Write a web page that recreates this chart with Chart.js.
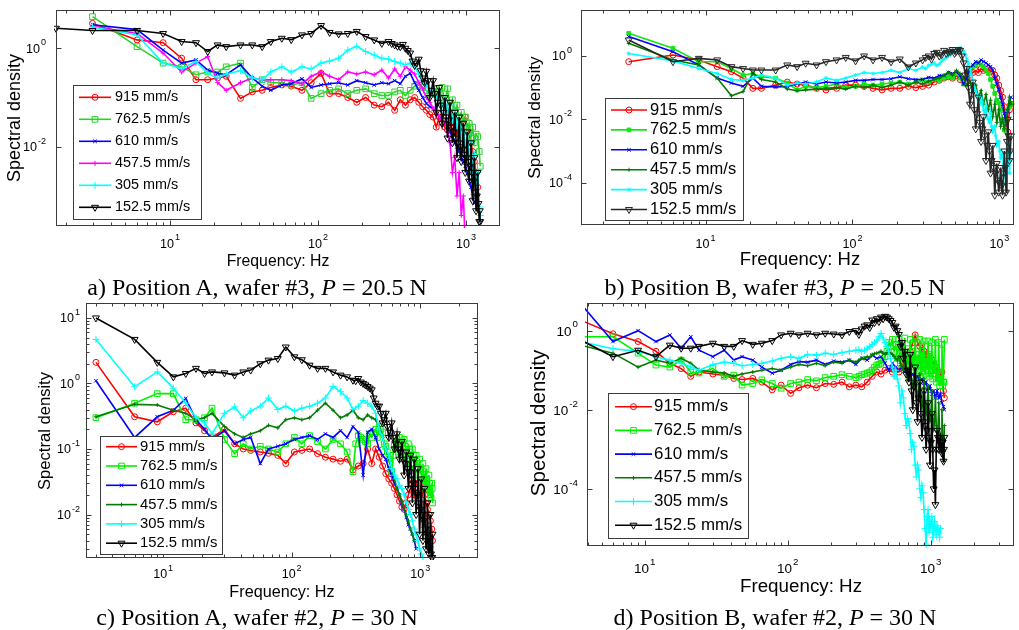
<!DOCTYPE html>
<html>
<head>
<meta charset="utf-8">
<title>Spectral density</title>
<script src="https://cdn.jsdelivr.net/npm/chart.js@4.4.0/dist/chart.umd.min.js"></script>
<style>
  body { margin: 0; background: #fff; width: 1019px; height: 630px; position: relative; overflow: hidden; }
  canvas { position: absolute; }
  .cap { position: absolute; font: 24px "Liberation Serif", "Times New Roman", serif; line-height: 24px;
         white-space: nowrap; transform: translateX(-50%); color: #000; z-index: 2; }
</style>
</head>
<body>
<canvas id="pa" width="505" height="275" style="left:0;top:0"></canvas>
<canvas id="pb" width="514" height="275" style="left:505px;top:0"></canvas>
<canvas id="pc" width="505" height="310" style="left:0;top:295px"></canvas>
<canvas id="pd" width="514" height="310" style="left:505px;top:295px"></canvas>
<div class="cap" style="left:257px;top:275px">a) Position A, wafer #3, <i>P</i> = 20.5 N</div>
<div class="cap" style="left:775px;top:275px">b) Position B, wafer #3, <i>P</i> = 20.5 N</div>
<div class="cap" style="left:257px;top:605px">c) Position A, wafer #2, <i>P</i> = 30 N</div>
<div class="cap" style="left:775px;top:605px">d) Position B, wafer #2, <i>P</i> = 30 N</div>
<script>
// sliding speeds, one curve each
const SPEEDS = ['915 mm/s', '762.5 mm/s', '610 mm/s', '457.5 mm/s', '305 mm/s', '152.5 mm/s'];

// frequency samples (Hz) shared by every panel
const FREQ = [1.7, 3, 6, 9, 12, 15, 18, 21, 24, 30,
  36, 42, 48, 57, 66, 78, 90, 105, 120, 138,
  159, 183, 210, 240, 270, 300, 330, 360, 390, 420,
  450, 480, 510, 540, 570, 600, 630, 660, 690, 720,
  750, 780, 810, 840, 870, 900, 930, 960, 990, 1020,
  1050, 1080, 1110, 1140, 1170, 1200, 1230, 1248];
// extra in-between samples for the noisiest high-frequency bands
const FREQ_HI = [315, 345, 375, 405, 435, 465, 495, 525, 555, 585,
  615, 645, 675, 705, 735, 765, 795, 825, 855, 885,
  915, 945, 975, 1005, 1035, 1065, 1095, 1125, 1155, 1185,
  1215, 1240];

// decade exponents that carry a tick label
const X_DECADES = [1, 2, 3];
const Y_DECADES_A = [0, -2];
const Y_DECADES_B = [0, -2, -4];
const Y_DECADES_C = [1, 0, -1, -2];
const Y_DECADES_D = [0, -2, -4];

// ---- a) position A, wafer #3, 20.5 N
const A_915 = [null, 3.2, 1.48, 1.3, 0.63, 0.23, 0.23, 0.25, 0.27, 0.096,
  0.13, 0.14, 0.16, 0.18, 0.17, 0.14, 0.2, 0.31, 0.12, 0.12,
  0.1, 0.08, 0.1, 0.07, 0.065, 0.08, 0.055, 0.09, 0.07, 0.09,
  0.1, 0.08, 0.065, 0.055, 0.045, 0.04, 0.025, 0.04, 0.03, 0.025,
  0.022, 0.03, 0.02, 0.025, 0.018, 0.03, 0.022, 0.035, 0.04, 0.025,
  0.02, 0.012, 0.008, 0.005, 0.003, 0.0015, null, null];
const A_7625 = [null, 4.4, 1.08, 0.5, 0.42, 0.29, 0.33, 0.33, 0.42, 0.5,
  0.16, 0.23, 0.2, 0.2, 0.18, 0.2, 0.096, 0.12, 0.14, 0.15,
  0.12, 0.14, 0.15, 0.12, 0.11, 0.11, 0.13, 0.14, 0.11, 0.14,
  0.17, 0.18, 0.16, 0.14, 0.12, 0.12, 0.15, 0.1, 0.16, 0.08,
  0.15, 0.06, 0.09, 0.05, 0.07, 0.04, 0.05, 0.03, 0.04, 0.02,
  0.03, 0.015, 0.025, 0.012, 0.018, 0.016, 0.008, 0.004];
const A_610 = [null, 3.0, 2.4, 0.92, 0.5, 0.58, 0.36, 0.31, 0.29, 0.46,
  0.25, 0.17, 0.14, 0.18, 0.19, 0.24, 0.16, 0.18, 0.19, 0.2,
  0.18, 0.22, 0.2, 0.18, 0.2, 0.19, 0.22, 0.19, 0.27, 0.31,
  0.2, 0.14, 0.1, 0.076, 0.065, 0.06, 0.05, 0.04, 0.035, 0.03,
  0.025, 0.02, 0.016, 0.012, 0.01, 0.008, 0.006, 0.005, 0.004, 0.003,
  0.002, 0.0015, 0.001, 0.0007, null, null, null, null];
const A_4575 = [null, 2.8, 2.0, 0.8, 0.33, 0.5, 0.68, 0.2, 0.14, 0.2,
  0.25, 0.23, 0.23, 0.23, 0.22, 0.19, 0.27, 0.33, 0.27, 0.23,
  0.33, 0.3, 0.33, 0.29, 0.36, 0.25, 0.38, 0.27, 0.42, 0.36,
  0.3, 0.2, 0.15, 0.1, 0.08, 0.06, 0.05, 0.04, 0.035, 0.03,
  0.02, 0.012, 0.003, 0.006, 0.001, 0.003, 0.0004, 0.001, 0.0001, null,
  null, null, null, null, null, null, null, null];
const A_305 = [null, 2.7, 1.87, 0.5, 0.39, 0.54, 0.31, 0.25, 0.3, 0.35,
  0.25, 0.23, 0.33, 0.42, 0.33, 0.42, 0.38, 0.5, 0.55, 0.63,
  0.92, 1.1, 0.86, 0.73, 0.63, 0.6, 0.54, 0.5, 0.46, 0.5,
  0.42, 0.3, 0.22, 0.18, 0.14, 0.12, 0.1, 0.12, 0.07, 0.09,
  0.05, 0.07, 0.035, 0.05, 0.025, 0.035, 0.015, 0.025, 0.01, 0.018,
  0.006, 0.012, 0.003, 0.007, 0.0015, 0.003, 0.0006, 0.0004];
const A_1525 = [2.55, 2.3, 2.3, 2.0, 1.37, 1.3, 0.86, 1.17, 1.08, 1.17,
  1.17, 1.08, 1.37, 1.6, 1.5, 1.87, 2.0, 2.9, 2.1, 1.96,
  2.0, 2.2, 1.73, 1.48, 1.26, 1.37, 1.17, 1.08, 1.0, 0.8,
  0.45, 0.6, 0.25, 0.34, 0.1, 0.22, 0.05, 0.16, 0.03, 0.1,
  0.015, 0.08, 0.012, 0.05, 0.006, 0.04, 0.005, 0.03, 0.003, 0.02,
  0.002, 0.012, 0.0008, 0.006, 0.0005, 0.003, 0.0003, 0.0003];
const A_1525_HI = [1.25, 1.1, 1.2, 0.9, 0.55, 0.5, 0.35, 0.2, 0.22, 0.14,
  0.12, 0.08, 0.07, 0.05, 0.04, 0.035, 0.025, 0.02, 0.015, 0.012,
  0.01, 0.009, 0.007, 0.006, 0.005, 0.004, 0.003, 0.002, 0.0015, 0.001,
  0.0007, 0.0005];

// ---- b) position B, wafer #3, 20.5 N
const B_915 = [null, 0.66, 1.07, 0.75, 0.46, 0.32, 0.2, 0.095, 0.095, 0.12,
  0.15, 0.13, 0.12, 0.095, 0.085, 0.095, 0.12, 0.12, 0.11, 0.095,
  0.085, 0.095, 0.095, 0.11, 0.1, 0.11, 0.12, 0.15, 0.17, 0.2,
  0.22, 0.2, 0.24, 0.18, 0.18, 0.2, 0.25, 0.3, 0.35, 0.3,
  0.4, 0.35, 0.38, 0.4, 0.32, 0.35, 0.25, 0.2, 0.12, 0.08,
  0.05, 0.025, 0.01, 0.004, 0.02, 0.03, null, null];
const B_7625 = [null, 5.2, 1.75, 0.66, 0.66, 0.4, 0.25, 0.28, 0.22, 0.2,
  0.14, 0.085, 0.11, 0.1, 0.11, 0.13, 0.1, 0.11, 0.13, 0.12,
  0.13, 0.14, 0.15, 0.13, 0.15, 0.175, 0.15, 0.18, 0.17, 0.2,
  0.22, 0.2, 0.28, 0.2, 0.13, 0.2, 0.33, 0.46, 0.52, 0.6,
  0.52, 0.46, 0.36, 0.28, 0.18, 0.11, 0.066, 0.04, 0.033, 0.02,
  0.01, 0.0046, 0.01, 0.02, 0.025, 0.03, null, null];
const B_610 = [null, 4.1, 1.37, 0.52, 0.2, 0.14, 0.11, 0.2, 0.11, 0.105,
  0.11, 0.13, 0.15, 0.13, 0.15, 0.14, 0.15, 0.17, 0.17, 0.18,
  0.18, 0.19, 0.22, 0.19, 0.18, 0.18, 0.21, 0.2, 0.24, 0.24,
  0.3, 0.28, 0.32, 0.24, 0.13, 0.2, 0.4, 0.52, 0.66, 0.6,
  0.75, 0.66, 0.6, 0.52, 0.46, 0.36, 0.2, 0.13, 0.085, 0.05,
  0.03, 0.015, 0.008, 0.018, 0.035, 0.05, null, null];
const B_4575 = [null, 2.5, 0.75, 0.52, 0.2, 0.055, 0.075, 0.28, 0.18, 0.15,
  0.09, 0.08, 0.085, 0.09, 0.095, 0.1, 0.09, 0.11, 0.1, 0.12,
  0.1, 0.12, 0.15, 0.12, 0.15, 0.13, 0.16, 0.18, 0.2, 0.25,
  0.3, 0.25, 0.35, 0.28, 0.2, 0.12, 0.15, 0.08, 0.12, 0.05,
  0.08, 0.03, 0.06, 0.02, 0.04, 0.012, 0.03, 0.008, 0.02, 0.006,
  0.01, 0.005, 0.008, 0.02, 0.05, 0.03, null, null];
const B_305 = [null, 1.2, 0.7, 0.4, 0.28, 0.18, 0.17, 0.2, 0.25, 0.2,
  0.12, 0.14, 0.13, 0.15, 0.2, 0.17, 0.2, 0.25, 0.3, 0.28,
  0.3, 0.35, 0.3, 0.4, 0.35, 0.45, 0.5, 0.6, 0.55, 0.8,
  1.0, 1.3, 1.5, 1.8, 1.4, 0.8, 0.4, 0.15, 0.08, 0.04,
  0.05, 0.02, 0.025, 0.01, 0.015, 0.004, 0.006, 0.0015, 0.002, 0.0006,
  0.0008, 0.0002, 0.0001, 0.003, 0.0002, 0.001, null, null];
const B_305_HI = [0.4, 0.55, 0.5, 0.7, 0.9, 1.1, 1.4, 1.6, 1.5, 1.1,
  0.6, 0.25, 0.1, 0.06, 0.03, 0.035, 0.015, 0.012, 0.008, 0.006,
  0.005, 0.003, 0.0018, 0.001, 0.0007, 0.0004, 0.00015, 0.001, 0.0008, 0.0005,
  null, null];
const B_1525 = [null, 3.2, 0.66, 0.84, 0.75, 0.46, 0.4, 0.36, 0.36, 0.36,
  0.52, 0.46, 0.59, 0.52, 0.66, 0.75, 0.9, 0.7, 1.0, 0.75,
  0.9, 0.65, 0.8, 0.45, 0.6, 0.75, 1.0, 1.2, 1.0, 1.5,
  1.3, 1.6, 1.4, 1.5, 0.6, 0.4, 0.03, 0.15, 0.005, 0.05,
  0.002, 0.012, 0.0005, 0.004, 0.0002, 0.0015, 0.00004, 0.0004, 0.00005, 0.0003,
  0.00004, 0.001, 0.00005, 0.01, 0.0005, 0.003, null, null];
const B_1525_HI = [0.9, 0.8, 1.3, 1.1, 1.2, 1.4, 1.2, 1.6, 1.0, 0.25,
  0.1, 0.06, 0.02, 0.015, 0.008, 0.005, 0.003, 0.0015, 0.001, 0.0005,
  0.0003, 0.0002, 0.00012, 0.0001, 0.00008, 0.0002, 0.0003, 0.002, 0.003, 0.001,
  null, null];

// ---- c) position A, wafer #2, 30 N
const C_915 = [null, 2.1, 0.31, 0.26, 0.37, 0.42, 0.25, 0.19, 0.15, 0.2,
  0.12, 0.1, 0.095, 0.09, 0.086, 0.08, 0.06, 0.09, 0.095, 0.1,
  0.085, 0.075, 0.07, 0.065, 0.07, 0.048, 0.055, 0.06, 0.1, 0.06,
  0.1, 0.075, 0.055, 0.042, 0.035, 0.03, 0.025, 0.02, 0.016, 0.013,
  0.012, 0.015, 0.02, 0.025, 0.03, 0.02, 0.03, 0.025, 0.02, 0.03,
  0.025, 0.02, 0.015, 0.012, 0.01, 0.008, 0.006, 0.004];
const C_7625 = [null, 0.3, 0.5, 0.7, 0.7, 0.28, 0.28, 0.3, 0.42, 0.14,
  0.085, 0.12, 0.1, 0.11, 0.1, 0.09, 0.12, 0.15, 0.12, 0.16,
  0.13, 0.1, 0.14, 0.12, 0.09, 0.045, 0.16, 0.14, 0.12, 0.15,
  0.2, 0.22, 0.18, 0.11, 0.07, 0.045, 0.12, 0.13, 0.15, 0.12,
  0.14, 0.1, 0.12, 0.08, 0.1, 0.06, 0.08, 0.05, 0.07, 0.04,
  0.06, 0.035, 0.05, 0.025, 0.04, 0.02, 0.03, 0.015];
const C_7625_HI = [0.12, 0.15, 0.13, 0.17, 0.18, 0.15, 0.2, 0.12, 0.09, 0.06,
  0.08, 0.1, 0.09, 0.12, 0.09, 0.11, 0.07, 0.09, 0.06, 0.08,
  0.05, 0.06, 0.04, 0.05, 0.03, 0.045, 0.025, 0.035, 0.02, 0.03,
  0.018, 0.025];
const C_610 = [null, 1.1, 0.15, 0.31, 0.39, 0.59, 0.28, 0.2, 0.14, 0.19,
  0.12, 0.14, 0.15, 0.06, 0.1, 0.11, 0.12, 0.14, 0.15, 0.16,
  0.14, 0.17, 0.15, 0.19, 0.15, 0.22, 0.18, 0.04, 0.18, 0.2,
  0.15, 0.1, 0.08, 0.07, 0.05, 0.04, 0.03, 0.025, 0.02, 0.015,
  0.012, 0.009, 0.007, 0.006, 0.005, 0.004, 0.003, null, null, null,
  null, null, null, null, null, null, null, null];
const C_4575 = [null, 0.31, 0.48, 0.47, 0.39, 0.35, 0.28, 0.3, 0.35, 0.22,
  0.17, 0.15, 0.17, 0.19, 0.23, 0.21, 0.28, 0.3, 0.28, 0.3,
  0.39, 0.5, 0.39, 0.3, 0.33, 0.39, 0.3, 0.28, 0.33, 0.3,
  0.28, 0.22, 0.15, 0.1, 0.07, 0.05, 0.035, 0.025, 0.02, 0.016,
  0.012, 0.01, 0.008, 0.006, 0.005, 0.004, null, null, null, null,
  null, null, null, null, null, null, null, null];
const C_305 = [null, 4.7, 0.89, 1.5, 0.85, 0.5, 0.3, 0.25, 0.17, 0.35,
  0.44, 0.3, 0.38, 0.45, 0.6, 0.4, 0.45, 0.38, 0.42, 0.45,
  0.5, 0.6, 0.9, 0.75, 0.6, 0.4, 0.45, 0.55, 0.5, 0.45,
  0.35, 0.2, 0.15, 0.1, 0.08, 0.05, 0.04, 0.035, 0.028, 0.025,
  0.02, 0.015, 0.012, 0.01, 0.008, 0.006, 0.005, 0.004, 0.003, 0.0025,
  0.0022, null, null, null, null, null, null, null];
const C_1525 = [null, 10, 4.7, 2.1, 1.26, 1.42, 1.7, 1.42, 1.5, 1.45,
  1.34, 1.5, 1.6, 2.0, 2.27, 2.4, 3.6, 2.55, 2.3, 1.9,
  1.7, 1.7, 1.5, 1.34, 1.26, 1.12, 1.19, 1.0, 0.9, 0.8,
  0.5, 0.45, 0.25, 0.35, 0.15, 0.25, 0.1, 0.17, 0.07, 0.13,
  0.04, 0.09, 0.025, 0.08, 0.015, 0.07, 0.01, 0.05, 0.005, 0.035,
  0.004, 0.025, 0.003, 0.015, 0.0025, 0.01, 0.0022, 0.005];
const C_1525_HI = [1.1, 1.05, 0.95, 0.85, 0.6, 0.45, 0.35, 0.28, 0.22, 0.18,
  0.15, 0.12, 0.1, 0.09, 0.07, 0.06, 0.05, 0.045, 0.04, 0.03,
  0.025, 0.02, 0.015, 0.012, 0.01, 0.008, 0.006, 0.005, 0.004, 0.003,
  0.0025, 0.0022];

// ---- d) position B, wafer #2, 30 N
const D_915 = [null, 2.4, 0.83, 0.53, 0.3, 0.15, 0.11, 0.07, 0.09, 0.08,
  0.075, 0.062, 0.058, 0.062, 0.05, 0.032, 0.042, 0.026, 0.036, 0.042,
  0.036, 0.046, 0.044, 0.05, 0.038, 0.042, 0.038, 0.05, 0.07, 0.09,
  0.08, 0.1, 0.11, 0.09, 0.1, 0.09, 0.12, 0.15, 0.2, 0.3,
  0.5, 0.78, 0.5, 0.4, 0.35, 0.3, 0.25, 0.2, 0.22, 0.18,
  0.15, 0.12, 0.1, 0.08, 0.07, 0.09, 0.03, 0.02];
const D_7625 = [null, 0.7, 0.7, 0.27, 0.135, 0.12, 0.18, 0.09, 0.085, 0.11,
  0.07, 0.075, 0.042, 0.046, 0.057, 0.046, 0.035, 0.046, 0.05, 0.058,
  0.054, 0.065, 0.07, 0.077, 0.07, 0.065, 0.077, 0.085, 0.1, 0.135,
  0.15, 0.22, 0.5, 0.6, 0.45, 0.6, 0.4, 0.65, 0.35, 0.6,
  0.3, 0.65, 0.25, 0.6, 0.3, 0.55, 0.2, 0.55, 0.25, 0.5,
  0.15, 0.6, 0.1, 0.5, 0.06, 0.45, 0.05, 0.6];
const D_7625_HI = [0.07, 0.08, 0.09, 0.12, 0.14, 0.18, 0.3, 0.4, 0.3, 0.2,
  0.15, 0.2, 0.12, 0.15, 0.1, 0.12, 0.08, 0.1, 0.07, 0.09,
  0.08, 0.1, 0.07, 0.1, 0.06, 0.08, 0.05, 0.06, 0.04, 0.05,
  0.04, 0.05];
const D_610 = [null, 10, 0.53, 1.0, 0.53, 0.78, 0.36, 0.7, 0.32, 0.22,
  0.32, 0.18, 0.22, 0.18, 0.12, 0.084, 0.1, 0.14, 0.165, 0.16,
  0.18, 0.14, 0.17, 0.16, 0.18, 0.14, 0.2, 0.18, 0.24, 0.2,
  0.22, 0.15, 0.1, 0.15, 0.12, 0.1, 0.12, 0.09, 0.1, 0.07,
  0.08, 0.06, 0.07, 0.05, 0.06, 0.04, 0.05, 0.03, 0.04, 0.025,
  0.03, 0.02, 0.03, 0.02, 0.025, 0.015, 0.012, 0.01];
const D_4575 = [null, 0.5, 0.27, 0.12, 0.18, 0.15, 0.2, 0.15, 0.1, 0.09,
  0.085, 0.07, 0.08, 0.09, 0.1, 0.11, 0.1, 0.12, 0.14, 0.13,
  0.15, 0.13, 0.16, 0.15, 0.18, 0.16, 0.2, 0.22, 0.25, 0.27,
  0.3, 0.25, 0.3, 0.25, 0.2, 0.22, 0.12, 0.2, 0.06, 0.15,
  0.04, 0.1, 0.02, 0.08, 0.012, 0.06, 0.008, 0.04, 0.005, 0.03,
  0.003, 0.02, 0.002, 0.015, 0.001, 0.01, 0.0005, 0.004];
const D_4575_HI = [0.18, 0.2, 0.21, 0.26, 0.28, 0.27, 0.28, 0.27, 0.22, 0.18,
  0.15, 0.1, 0.12, 0.08, 0.06, 0.05, 0.04, 0.03, 0.025, 0.02,
  0.015, 0.012, 0.01, 0.008, 0.006, 0.005, 0.004, 0.003, 0.0025, 0.002,
  0.0015, 0.001];
const D_305 = [null, 0.6, 0.35, 0.3, 0.22, 0.18, 0.15, 0.12, 0.1, 0.14,
  0.16, 0.15, 0.13, 0.14, 0.15, 0.17, 0.2, 0.22, 0.2, 0.25,
  0.24, 0.27, 0.25, 0.28, 0.3, 0.32, 0.3, 0.35, 0.45, 0.55,
  0.85, 0.5, 0.3, 0.12, 0.1, 0.04, 0.03, 0.008, 0.006, 0.0025,
  0.0015, 0.0004, 0.0004, 0.0001, 0.00012, 0.00003, 0.000004, 0.00003, 0.000015, 0.00002,
  0.000008, 0.00001, 0.000012, 0.000008, 0.00001, null, null, null];
const D_305_HI = [0.33, 0.32, 0.4, 0.5, 0.7, 0.65, 0.4, 0.2, 0.07, 0.06,
  0.015, 0.02, 0.004, 0.005, 0.001, 0.0012, 0.0002, 0.0003, 0.00006, 0.00008,
  0.00001, 0.00002, 0.000008, 0.000012, 0.000006, 0.000015, 0.000007, 0.00001, 0.000006, null,
  null, null];
const D_1525 = [null, 0.8, 0.22, 0.32, 0.22, 0.43, 0.36, 0.36, 0.4, 0.48,
  0.4, 0.4, 0.56, 0.45, 0.48, 0.56, 0.78, 0.86, 0.78, 0.86,
  0.78, 0.86, 0.82, 0.78, 0.95, 1.0, 1.1, 1.4, 1.85, 2.0,
  2.2, 2.3, 2.0, 1.6, 1.3, 0.8, 0.5, 0.3, 0.1, 0.25,
  0.01, 0.12, 0.005, 0.05, 0.002, 0.03, 0.001, 0.015, 0.0004, 0.008,
  0.0001, 0.00004, 0.003, 0.001, 0.002, 0.0008, 0.0005, 0.002];
const D_1525_HI = [0.8, 1.3, 1.2, 1.6, 1.7, 2.0, 2.2, 1.8, 1.2, 1.0,
  0.4, 0.2, 0.08, 0.05, 0.03, 0.04, 0.015, 0.02, 0.008, 0.005,
  0.004, 0.003, 0.002, 0.0015, 0.001, 0.0003, 0.001, 0.002, 0.0015, 0.001,
  0.0015, 0.001];

const SANS = '"Liberation Sans", Arial, sans-serif';
const AXIS = '#3c3c3c';
const CLEAR = 'rgba(0,0,0,0)';

// marker / colour sets (MATLAB-like line specs)
const STYLE_A = [
  { c: '#ff0000', p: 'circle', r: 3, fill: false },
  { c: '#2ad22a', p: 'rect', r: 4, fill: false },
  { c: '#0000ff', p: 'crossRot', r: 2.5, fill: false },
  { c: '#ff00ff', p: 'cross', r: 2.5, fill: false },
  { c: '#00ffff', p: 'cross', r: 3.5, fill: false },
  { c: '#000000', p: 'triangle', r: 4, fill: false, rot: 180 },
];
const STYLE_B = [
  { c: '#ff0000', p: 'circle', r: 3, fill: false },
  { c: '#14e614', p: 'rect', r: 2.6, fill: true },
  { c: '#0000ff', p: 'crossRot', r: 2.5, fill: false },
  { c: '#007a00', p: 'cross', r: 2, fill: false },
  { c: '#00ffff', p: 'star', r: 2, fill: false },
  { c: '#262626', p: 'triangle', r: 4, fill: false, rot: 180 },
];
const STYLE_CD = [
  { c: '#ff0000', p: 'circle', r: 3, fill: false },
  { c: '#00f000', p: 'rect', r: 4, fill: false },
  { c: '#0000ff', p: 'crossRot', r: 2.5, fill: false },
  { c: '#007a00', p: 'cross', r: 2, fill: false },
  { c: '#00ffff', p: 'cross', r: 3.5, fill: false },
  { c: '#000000', p: 'triangle', r: 4, fill: false, rot: 180 },
];

const PANELS = [
  { id: 'pa', series: [A_915, A_7625, A_610, A_4575, A_305, A_1525], hi: { 5: A_1525_HI }, style: STYLE_A,
    x: [1.70, 1698], y: [2.45e-4, 6.0], yDec: Y_DECADES_A, yMinor: false,
    pad: { top: 10, right: 5 }, yW: 56, xH: 49,
    tick: 12.6, xLabBase: 248, yLabGap: 10,
    xTitle: [278, 262, 15.8], yTitle: [15, 118, 18],
    legend: { x: 73, y: 85, w: 128, h: 134, row0: 97.3, dy: 22, l1: 79, l2: 111, tx: 115, size: 14.4 } },
  { id: 'pb', series: [B_915, B_7625, B_610, B_4575, B_305, B_1525], hi: { 4: B_305_HI, 5: B_1525_HI }, style: STYLE_B,
    x: [1.42, 1257], y: [4.6e-6, 28.3], yDec: Y_DECADES_B, yMinor: false,
    pad: { top: 10, right: 1 }, yW: 76, xH: 50,
    tick: 12.5, xLabBase: 248.3, yLabGap: 9,
    xTitle: [295, 260, 18.5], yTitle: [30, 117.5, 17.2],
    legend: { x: 100, y: 98, w: 138, h: 122, row0: 110, dy: 19.9, l1: 106, l2: 142, tx: 145, size: 16.5 } },
  { id: 'pc', series: [C_915, C_7625, C_610, C_4575, C_305, C_1525], hi: { 1: C_7625_HI, 5: C_1525_HI }, style: STYLE_CD,
    x: [2.51, 2818], y: [2.17e-3, 16.9], yDec: Y_DECADES_C, yMinor: true,
    pad: { top: 8, right: 27 }, yW: 86, xH: 47,
    tick: 12.5, xLabBase: 283.3, yLabGap: 6,
    xTitle: [282, 297.7, 16.2], yTitle: [45, 136, 16.6],
    legend: { x: 100, y: 141, w: 122, h: 118, row0: 151.7, dy: 19.3, l1: 106, l2: 137, tx: 140, size: 14.8 } },
  { id: 'pd', series: [D_915, D_7625, D_610, D_4575, D_305, D_1525],
    hi: { 1: D_7625_HI, 3: D_4575_HI, 4: D_305_HI, 5: D_1525_HI }, style: STYLE_CD,
    x: [3.95, 3830], y: [3.6e-6, 5.0], yDec: Y_DECADES_D, yMinor: false,
    pad: { top: 8, right: 2 }, yW: 82, xH: 59,
    tick: 13.5, xLabBase: 278.3, yLabGap: 9,
    xTitle: [296, 292.3, 18.8], yTitle: [34, 128, 20.6],
    legend: { x: 103, y: 98, w: 140, h: 145, row0: 111.7, dy: 23.7, l1: 110, l2: 147, tx: 149, size: 16.9 } },
];

// merge the main samples with the optional in-between ones, in frequency order
function points(values, extra) {
  const pts = [];
  values.forEach((v, i) => { if (v !== null) pts.push({ x: FREQ[i], y: v }); });
  if (extra) extra.forEach((v, i) => { if (v !== null) pts.push({ x: FREQ_HI[i], y: v }); });
  return pts.sort((a, b) => a.x - b.x);
}

function text(ctx, str, x, y, size, opt = {}) {
  ctx.save();
  ctx.translate(x, y);
  if (opt.rot) ctx.rotate(-Math.PI / 2);
  ctx.font = size + 'px ' + SANS;
  ctx.textAlign = opt.align || 'left';
  ctx.textBaseline = opt.base || 'alphabetic';
  ctx.fillStyle = '#000';
  ctx.fillText(str, 0, 0);
  ctx.restore();
}

// "10" with a raised exponent; y is the baseline of the "10"
function power(ctx, exp, x, y, size, align) {
  const es = size * 0.72;
  ctx.font = size + 'px ' + SANS;
  const w10 = ctx.measureText('10').width;
  ctx.font = es + 'px ' + SANS;
  const we = ctx.measureText(String(exp)).width;
  const total = w10 + 1 + we;
  const x0 = align === 'center' ? x - total / 2 : x - total;
  text(ctx, '10', x0, y, size);
  text(ctx, String(exp), x0 + w10 + 1, y - size * 0.6, es);
}

function seg(ctx, x1, y1, x2, y2) {
  ctx.beginPath(); ctx.moveTo(x1, y1); ctx.lineTo(x2, y2); ctx.stroke();
}

// box, inward ticks, tick labels, axis titles and the in-plot legend
const matlabAxes = {
  id: 'matlabAxes',
  afterDatasetsDraw(chart, args, p) {
    const ctx = chart.ctx;
    const { left, right, top, bottom } = chart.chartArea;
    const xs = chart.scales.x, ys = chart.scales.y;
    ctx.save();
    ctx.strokeStyle = AXIS;
    ctx.lineWidth = 1;
    const L = Math.round(left) + 0.5, R = Math.round(right) - 0.5;
    const T = Math.round(top) + 0.5, B = Math.round(bottom) - 0.5;
    ctx.strokeRect(L, T, R - L, B - T);

    const e0 = Math.floor(Math.log10(xs.min)), e1 = Math.ceil(Math.log10(xs.max));
    for (let e = e0; e <= e1; e++) {
      for (let m = 1; m < 10; m++) {
        const v = m * Math.pow(10, e);
        if (v < xs.min || v > xs.max) continue;
        const px = Math.round(xs.getPixelForValue(v)) + 0.5;
        const len = m === 1 ? 5 : 3;
        seg(ctx, px, B, px, B - len);
        seg(ctx, px, T, px, T + len);
      }
    }
    const f0 = Math.floor(Math.log10(ys.min)), f1 = Math.ceil(Math.log10(ys.max));
    for (let e = f0; e <= f1; e++) {
      for (let m = 1; m < 10; m++) {
        if (m > 1 && !p.yMinor) break;
        const v = m * Math.pow(10, e);
        if (v < ys.min || v > ys.max) continue;
        if (m === 1 && !p.yMinor && !p.yDec.includes(e)) continue;
        const py = Math.round(ys.getPixelForValue(v)) + 0.5;
        const len = m === 1 ? 5 : 3;
        seg(ctx, L, py, L + len, py);
        seg(ctx, R, py, R - len, py);
      }
    }
    ctx.restore();

    X_DECADES.forEach(e => {
      const v = Math.pow(10, e);
      if (v < xs.min || v > xs.max) return;
      power(ctx, e, xs.getPixelForValue(v), p.xLabBase, p.tick, 'center');
    });
    p.yDec.forEach(e => {
      const py = ys.getPixelForValue(Math.pow(10, e));
      power(ctx, e, left - p.yLabGap, py + p.tick * 0.36, p.tick, 'right');
    });
    text(ctx, 'Frequency: Hz', p.xTitle[0], p.xTitle[1], p.xTitle[2], { align: 'center', base: 'middle' });
    text(ctx, 'Spectral density', p.yTitle[0], p.yTitle[1], p.yTitle[2], { align: 'center', base: 'middle', rot: true });

    const lg = p.legend;
    ctx.save();
    ctx.fillStyle = '#fff';
    ctx.fillRect(lg.x, lg.y, lg.w, lg.h);
    ctx.strokeStyle = AXIS;
    ctx.lineWidth = 1;
    ctx.strokeRect(lg.x + 0.5, lg.y + 0.5, lg.w, lg.h);
    chart.data.datasets.forEach((ds, i) => {
      const y = lg.row0 + i * lg.dy;
      ctx.strokeStyle = ds.borderColor;
      ctx.lineWidth = ds.borderWidth;
      seg(ctx, lg.l1, y, lg.l2, y);
      ctx.strokeStyle = ds.pointBorderColor;
      ctx.fillStyle = ds.pointBackgroundColor;
      ctx.lineWidth = 1;
      Chart.helpers.drawPoint(ctx, { pointStyle: ds.pointStyle, radius: ds.pointRadius,
        rotation: ds.pointRotation, borderWidth: 1 }, (lg.l1 + lg.l2) / 2, y);
      text(ctx, ds.label, lg.tx, y, lg.size, { base: 'middle' });
    });
    ctx.restore();
  }
};

PANELS.forEach(p => {
  const datasets = p.series.map((vals, i) => {
    const s = p.style[i];
    return {
      label: SPEEDS[i],
      data: points(vals, p.hi[i]),
      borderColor: s.c,
      borderWidth: 1.6,
      pointStyle: s.p,
      pointRadius: s.r,
      pointRotation: s.rot || 0,
      pointBorderColor: s.c,
      pointBackgroundColor: s.fill ? s.c : CLEAR,
      pointBorderWidth: 1,
      tension: 0,
      fill: false,
      clip: 2,
      order: 6 - i
    };
  });
  new Chart(document.getElementById(p.id), {
    type: 'line',
    data: { datasets },
    options: {
      responsive: false,
      animation: false,
      events: [],
      layout: { padding: { top: p.pad.top, right: p.pad.right, left: 0, bottom: 0 } },
      plugins: { legend: { display: false }, tooltip: { enabled: false }, matlabAxes: p },
      scales: {
        x: { type: 'logarithmic', min: p.x[0], max: p.x[1],
             ticks: { display: false }, grid: { display: false }, border: { display: false },
             afterFit: s => { s.height = p.xH; } },
        y: { type: 'logarithmic', min: p.y[0], max: p.y[1],
             ticks: { display: false }, grid: { display: false }, border: { display: false },
             afterFit: s => { s.width = p.yW; } }
      }
    },
    plugins: [matlabAxes]
  });
});
</script>
</body>
</html>
